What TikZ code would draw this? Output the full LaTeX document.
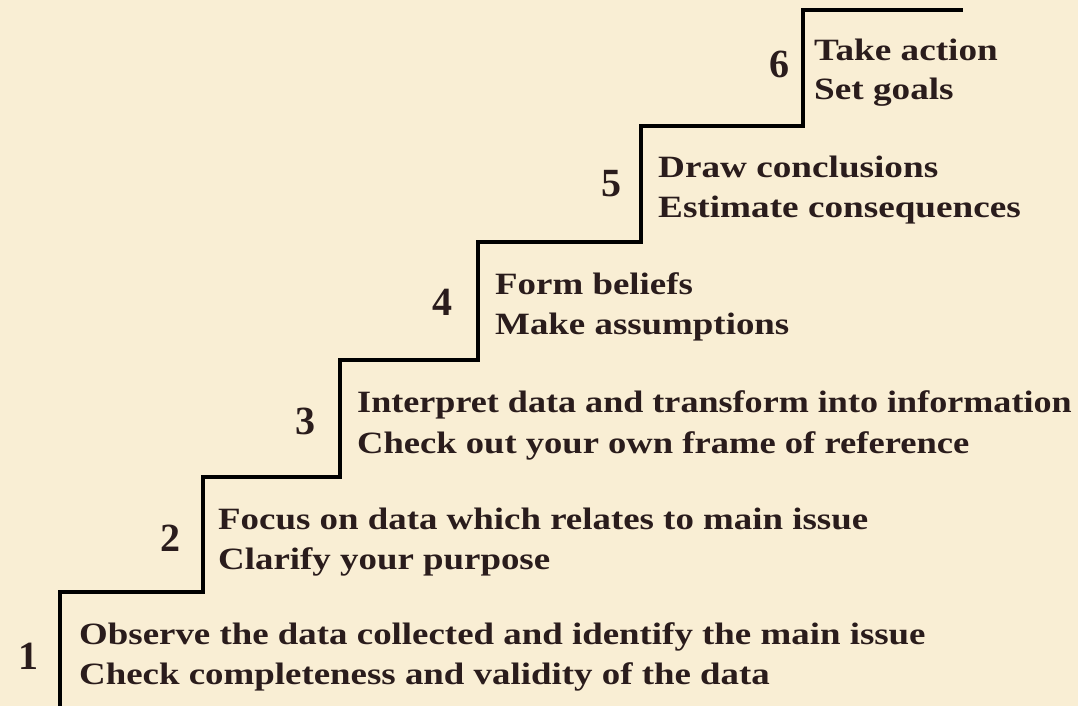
\documentclass[tikz,border=0pt]{standalone}
\usepackage{fontspec}
\usepackage{graphicx}
\setmainfont{Liberation Serif}
\definecolor{parchment}{RGB}{249,238,212}
\definecolor{ink}{RGB}{42,28,28}
% the step captions are set in a slightly widened bold serif
\newcommand\widetext[2][1.17]{\scalebox{#1}[1]{#2}}
\tikzset{
  stair/.style={line width=4pt, draw=black, line join=miter},
  stepnum/.style={text=ink, font=\fontsize{40}{40}\selectfont\bfseries, inner sep=0pt},
  steptext/.style={text=ink, font=\fontsize{31}{31}\selectfont\bfseries, anchor=base west, inner sep=0pt}
}
\begin{document}
\begin{tikzpicture}[x=1pt, y=-1pt]
  \fill[parchment] (0,0) rectangle (1078,706);
  \useasboundingbox (0,0) rectangle (1078,706);

  % corners of the staircase
  \coordinate (s0) at (60,708);
  \coordinate (s1) at (60,592);
  \coordinate (s2) at (203,592);
  \coordinate (s3) at (203,477);
  \coordinate (s4) at (340,477);
  \coordinate (s5) at (340,360);
  \coordinate (s6) at (478,360);
  \coordinate (s7) at (478,242);
  \coordinate (s8) at (641,242);
  \coordinate (s9) at (641,126);
  \coordinate (s10) at (803,126);
  \coordinate (s11) at (803,10);
  \coordinate (s12) at (963,10);
  \draw[stair] (s0) -- (s1) -- (s2) -- (s3) -- (s4) -- (s5) -- (s6) -- (s7)
    -- (s8) -- (s9) -- (s10) -- (s11) -- (s12);

  % step numbers
  \node[stepnum] (n1) at (28,656) {1};
  \node[stepnum] (n2) at (170,538) {2};
  \node[stepnum] (n3) at (305,421) {3};
  \node[stepnum] (n4) at (442,302) {4};
  \node[stepnum] (n5) at (611,184) {5};
  \node[stepnum] (n6) at (779,64) {6};

  % step descriptions, two lines each
  \node[steptext] (t1a) at (79,644) {\widetext[1.19]{Observe the data collected and identify the main issue}};
  \node[steptext] (t1b) at (79,684) {\widetext[1.19]{Check completeness and validity of the data}};
  \node[steptext] (t2a) at (218,529) {\widetext[1.19]{Focus on data which relates to main issue}};
  \node[steptext] (t2b) at (218,569) {\widetext[1.19]{Clarify your purpose}};
  \node[steptext] (t3a) at (357,412) {\widetext[1.165]{Interpret data and transform into information}};
  \node[steptext] (t3b) at (357,453) {\widetext[1.18]{Check out your own frame of reference}};
  \node[steptext] (t4a) at (495,294) {\widetext[1.19]{Form beliefs}};
  \node[steptext] (t4b) at (495,334) {\widetext[1.19]{Make assumptions}};
  \node[steptext] (t5a) at (658,177) {\widetext[1.2]{Draw conclusions}};
  \node[steptext] (t5b) at (658,217) {\widetext[1.2]{Estimate consequences}};
  \node[steptext] (t6a) at (814,61) {\widetext[1.2]{Take action}};
  \node[steptext] (t6b) at (814,100) {\widetext[1.2]{Set goals}};
\end{tikzpicture}
\end{document}
